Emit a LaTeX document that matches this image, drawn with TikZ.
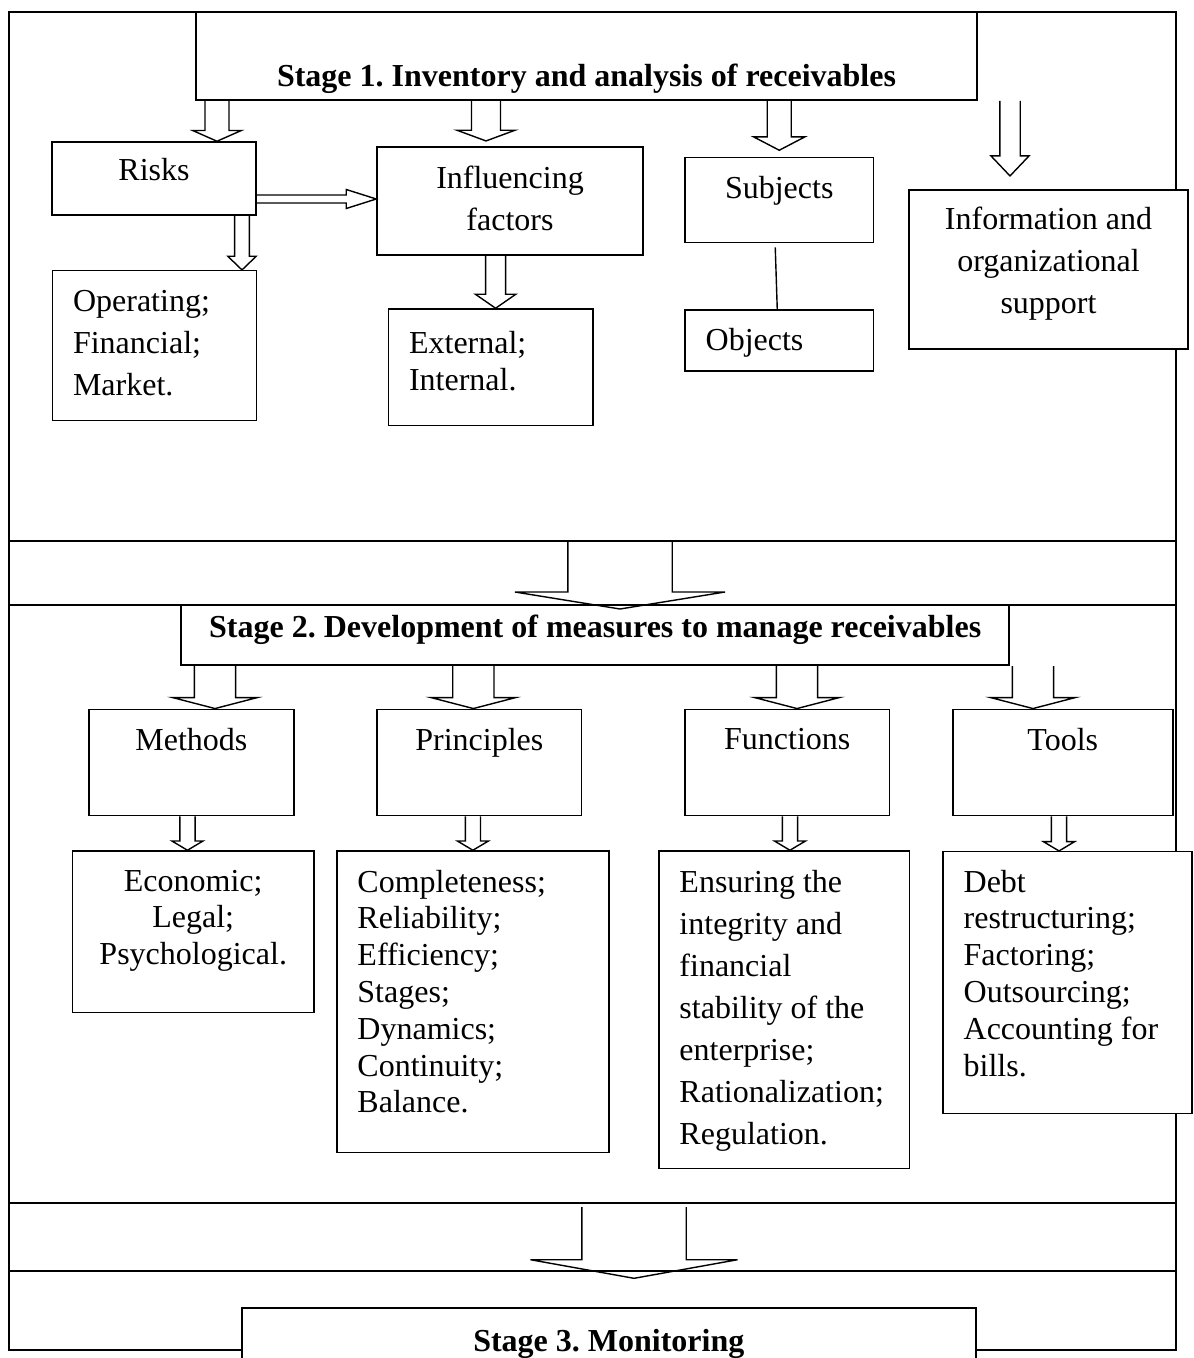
\documentclass[tikz,border=0pt]{standalone}
\usepackage{fontspec}
\setmainfont{Liberation Serif}
\usetikzlibrary{calc}
\frenchspacing

\newcommand{\hollowdown}[5]{%
  \draw[hollow] let \p1=#1, \p2=#2 in
    (\x2-#3,\y1) -- (\x2-#3,\y2+#5) -- (\x2-#4,\y2+#5) -- (\x2,\y2)
    -- (\x2+#4,\y2+#5) -- (\x2+#3,\y2+#5) -- (\x2+#3,\y1);}
\newcommand{\hollowright}[5]{%
  \draw[hollow] let \p1=#1, \p2=#2 in
    (\x1,\y2+#3) -- (\x2-#5,\y2+#3) -- (\x2-#5,\y2+#4) -- (\x2,\y2)
    -- (\x2-#5,\y2-#4) -- (\x2-#5,\y2-#3) -- (\x1,\y2-#3);}

\begin{document}
\begin{tikzpicture}[x=0.5pt, y=-0.5pt,
    font=\fontsize{16}{18.4}\selectfont,
    block/.style ={draw, fill=white, line width=0.75pt, inner sep=0pt},
    stage/.style ={draw, fill=white, line width=1pt, inner sep=0pt},
    lab/.style ={anchor=north, inner sep=0pt, align=center},
    labl/.style ={anchor=north west, inner sep=0pt, align=left, xshift=10.5pt},
    wide/.style ={font=\fontsize{16}{21}\selectfont},
    bold/.style ={font=\fontsize{16}{18.4}\selectfont\bfseries},
    hollow/.style ={line width=0.7pt, line join=miter}]
   \useasboundingbox (0,0) rectangle (1193,1358);

   % frame
   \draw[line width=1pt] (9,12) rectangle (1175.5,1350);
   \draw[line width=1pt] (9,541) -- (1175.5,541);
   \draw[line width=1pt] (9,605) -- (1175.5,605);
   \draw[line width=1pt] (9,1203) -- (1175.5,1203);
   \draw[line width=1pt] (9,1271) -- (1175.5,1271);
   \coordinate (band1) at (620,541);
   \coordinate (band2) at (634,1207);

   % stage 1
   \node[stage, minimum width=390.5pt, minimum height=44pt] (stage1) [label={[lab, bold, yshift=-26.25pt]north:Stage 1. Inventory and analysis of receivables}] at (586.5,56) {};
   \node[block, minimum width=102pt, minimum height=36.5pt] (risks) [label={[lab, yshift=-8.25pt]north:Risks}] at (154,178.5) {};
   \node[block, minimum width=133pt, minimum height=54pt] (infl) [label={[lab, wide, yshift=-9.75pt]north:Influencing\\factors}] at (510,201) {};
   \node[block, minimum width=94.25pt, minimum height=42.5pt] (subj) [label={[lab, yshift=-9.4pt]north:Subjects}] at (779.25,200.2) {};
   \node[block, minimum width=94.25pt, minimum height=30.5pt] (objs) [label={[labl, yshift=-9.25pt]north west:Objects}] at (779.25,340.5) {};
   \node[block, minimum width=139.5pt, minimum height=79.5pt] (info) [label={[lab, wide, yshift=-8.75pt]north:Information and\\organizational\\support}] at (1048.5,269.5) {};
   \node[block, minimum width=102pt, minimum height=75pt] (oper) [label={[labl, wide, yshift=-9.9pt]north west:Operating;\\Financial;\\Market.}] at (154.4,345.7) {};
   \node[block, minimum width=102.3pt, minimum height=58.35pt] (extl) [label={[labl, yshift=-11.25pt]north west:External;\\Internal.}] at (490.7,367.35) {};

   % stage 2
   \node[stage, minimum width=413.8pt, minimum height=30pt] (stage2) [label={[lab, bold, yshift=-5.1pt]north:Stage 2. Development of measures to manage receivables}] at (595.2,635) {};
   \node[block, minimum width=102.6pt, minimum height=53.2pt] (methods) [label={[lab, yshift=-9.6pt]north:Methods}] at (191.4,762.5) {};
   \node[block, minimum width=102.35pt, minimum height=53.2pt] (princ) [label={[lab, yshift=-9.6pt]north:Principles}] at (479.35,762.5) {};
   \node[block, minimum width=102.3pt, minimum height=53.2pt] (funcs) [label={[lab, yshift=-9.6pt]north:Functions}] at (787.3,762.5) {};
   \node[block, minimum width=110pt, minimum height=53.2pt] (tools) [label={[lab, yshift=-9.6pt]north:Tools}] at (1062.75,762.5) {};
   \node[block, minimum width=120.55pt, minimum height=80.85pt] (econ) [label={[lab, yshift=-9.6pt]north:Economic;\\Legal;\\Psychological.}] at (193.25,931.85) {};
   \node[block, minimum width=136.1pt, minimum height=150.65pt] (compl) [label={[labl, yshift=-9.6pt]north west:Completeness;\\Reliability;\\Efficiency;\\Stages;\\Dynamics;\\Continuity;\\Balance.}] at (472.9,1001.65) {};
   \node[block, minimum width=125.35pt, minimum height=158.65pt] (ensur) [label={[labl, wide, yshift=-9.6pt]north west:Ensuring the\\integrity and\\financial\\stability of the\\enterprise;\\Rationalization;\\Regulation.}] at (784.15,1009.65) {};
   \node[block, minimum width=124.5pt, minimum height=130.8pt] (debt) [label={[labl, yshift=-9.3pt]north west:Debt\\restructuring;\\Factoring;\\Outsourcing;\\Accounting for\\bills.}] at (1067.5,982.5) {};

   % stage 3
   \node[stage, minimum width=366.8pt, minimum height=46pt] (stage3) [label={[lab, bold, yshift=-11.1pt]north:Stage 3. Monitoring}] at (608.8,1354) {};

   % arrows
   \hollowdown{(stage1.south)}{([xshift=31.5pt]risks.north)}{6pt}{12.1pt}{5.35pt}
   \hollowdown{(stage1.south)}{([xshift=-12pt,yshift=2.65pt]infl.north)}{7.25pt}{14.5pt}{5.35pt}
   \hollowdown{(stage1.south)}{([yshift=3.35pt]subj.north)}{6pt}{12.75pt}{6.65pt}
   \hollowdown{(stage1.south)}{([xshift=-19.25pt,yshift=6.65pt]info.north)}{5.1pt}{9.5pt}{10pt}
   \hollowright{(risks.east)}{([yshift=1pt]infl.west)}{2pt}{4.75pt}{15pt}
   \hollowdown{(risks.south)}{([xshift=43.8pt]oper.north)}{3.7pt}{7.1pt}{6.85pt}
   \hollowdown{(infl.south)}{([xshift=2.45pt]extl.north)}{5pt}{10.1pt}{7pt}
   \draw[line width=0.7pt] ([xshift=-2pt,yshift=-2pt]subj.south) -- ([xshift=-1pt]objs.north);

   \hollowdown{(band1)}{([xshift=12.4pt,yshift=-2.5pt]stage2.north)}{26.1pt}{52.5pt}{8.5pt}
   \hollowdown{(stage2.south)}{([xshift=11.8pt]methods.north)}{10.3pt}{21.2pt}{5.5pt}
   \hollowdown{(stage2.south)}{([xshift=-3pt]princ.north)}{10.3pt}{21.2pt}{5.5pt}
   \hollowdown{(stage2.south)}{([xshift=4.85pt]funcs.north)}{10.3pt}{21.2pt}{5.5pt}
   \hollowdown{(stage2.south)}{([xshift=-14.9pt]tools.north)}{10.3pt}{21.2pt}{5.5pt}
   \hollowdown{(methods.south)}{([xshift=-2.9pt]econ.north)}{3.8pt}{7.8pt}{4.65pt}
   \hollowdown{(princ.south)}{(compl.north)}{3.8pt}{7.8pt}{4.65pt}
   \hollowdown{(funcs.south)}{([xshift=2.9pt]ensur.north)}{3.8pt}{7.8pt}{4.65pt}
   \hollowdown{(tools.south)}{([xshift=-4.25pt]debt.north)}{3.8pt}{7.8pt}{4.65pt}

   \hollowdown{(band2)}{([xshift=12.6pt,yshift=14.35pt]stage3.north)}{26.1pt}{51.75pt}{9.3pt}
 \end{tikzpicture}
\end{document}
